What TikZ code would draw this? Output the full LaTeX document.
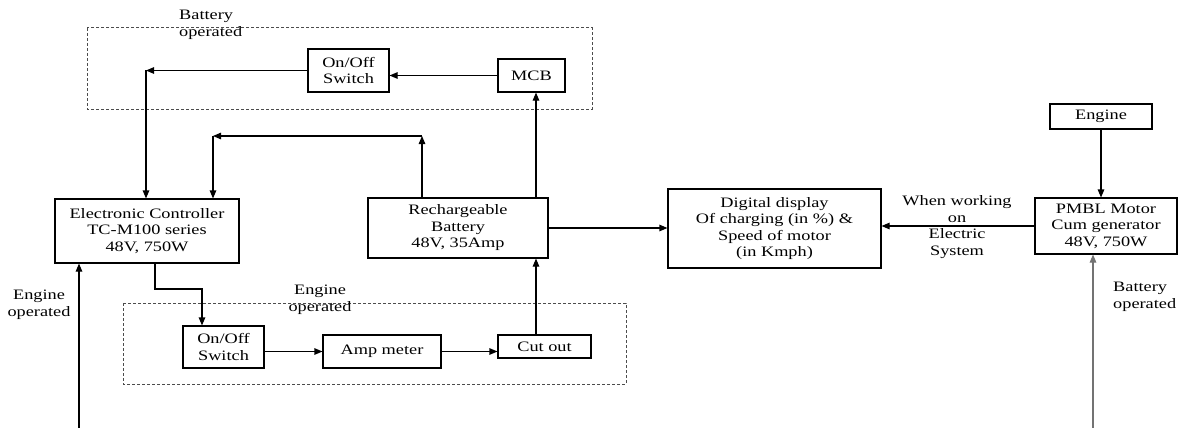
\documentclass[tikz,border=0pt]{standalone}
\usepackage{fontspec}
\setmainfont{Liberation Serif}[FakeStretch=1.27]
\usepackage{tikz}
\usetikzlibrary{arrows.meta}

\begin{document}
\begin{tikzpicture}
 [x=1pt, y=-1pt, font=\fontsize{14.4}{16.5}\selectfont,
  block/.style={draw, rectangle, line width=1.1pt, align=center, inner sep=0pt},
  group box/.style={draw=black!70, line width=1pt, dash pattern=on 3pt off 2pt},
  note/.style={align=center, inner sep=0pt},
  flow/.style={-{Triangle[length=8pt,width=6.5pt]}, line width=1.1pt}]

 \useasboundingbox (0,0) rectangle (1180,428);

 \draw[group box] (87,28) rectangle (592,109);
 \draw[group box] (123,303) rectangle (626,384);

 \node[block, minimum width=184pt, minimum height=64pt] (ctrl) at (147,231) {Electronic Controller\\TC-M100 series\\48V, 750W};
 \node[block, minimum width=180pt, minimum height=60pt] (bat) at (458,228) {Rechargeable\\Battery\\48V, 35Amp};
 \node[block, minimum width=213pt, minimum height=79pt] (disp) at (774.5,228.5) {Digital display\\Of charging (in \%) \&\\Speed of motor\\(in Kmph)};
 \node[block, minimum width=142pt, minimum height=56pt] (pmbl) at (1106,226) {PMBL Motor\\Cum generator\\48V, 750W};
 \node[block, minimum width=102pt, minimum height=25pt] (engine) at (1101,116.5) {Engine};

 \node[block, minimum width=81pt, minimum height=43pt] (sw1) at (348.5,70.5) {On/Off\\Switch};
 \node[block, minimum width=67pt, minimum height=33pt] (mcb) at (531.5,75.5) {MCB};

 \node[block, minimum width=81pt, minimum height=42pt] (sw2) at (223.5,347) {On/Off\\Switch};
 \node[block, minimum width=118pt, minimum height=33pt] (amp) at (382,351.5) {Amp meter};
 \node[block, minimum width=93pt, minimum height=23pt] (cut) at (544.5,346.5) {Cut out};

 \node[note, align=left, anchor=west] (topnote) at (179,25) {Battery\\operated};
 \node[note] (midnote) at (320,300) {Engine\\operated};
 \node[note] (leftnote) at (39,305) {Engine\\operated};
 \node[note, align=left, anchor=west] (rightnote) at (1113,297) {Battery\\operated};
 \node[note] (elecnote) at (957,227) {When working\\on\\Electric\\System};

 \coordinate (swturn) at (146,70.5);
 \coordinate (loopR) at (422,136);
 \coordinate (loopL) at (213,136);
 \coordinate (batx) at (536,0);
 \coordinate (drop) at (155,289);
 \coordinate (ctrlturn) at (202,289);
 \coordinate (engin) at (79,428);
 \coordinate (batin) at (1093,428);

 \draw[flow] (mcb.west) -- (mcb.west -| sw1.east);
 \draw[flow] (sw1.west) -- (swturn);
 \draw[flow] (swturn) -- (swturn |- ctrl.north);

 \draw[flow] (bat.north -| loopR) -- (loopR);
 \draw[flow] (loopR) -- (loopL);
 \draw[flow] (loopL) -- (loopL |- ctrl.north);

 \draw[flow] (bat.north -| batx) -- (mcb.south -| batx);
 \draw[flow] (cut.north -| batx) -- (bat.south -| batx);
 \draw[flow] (bat.east) -- (bat.east -| disp.west);

 \draw[flow] (pmbl.west) -- (pmbl.west -| disp.east);
 \draw[flow] (engine.south) -- (engine.south |- pmbl.north);
 \draw[flow, draw=black!55] (batin) -- (batin |- pmbl.south);

 \draw[flow] (engin) -- (engin |- ctrl.south);
 \draw[flow] (drop |- ctrl.south) -- (drop) -- (ctrlturn) -- (ctrlturn |- sw2.north);
 \draw[flow] (amp.west -| sw2.east) -- (amp.west);
 \draw[flow] (amp.east) -- (amp.east -| cut.west);

\end{tikzpicture}
\end{document}
